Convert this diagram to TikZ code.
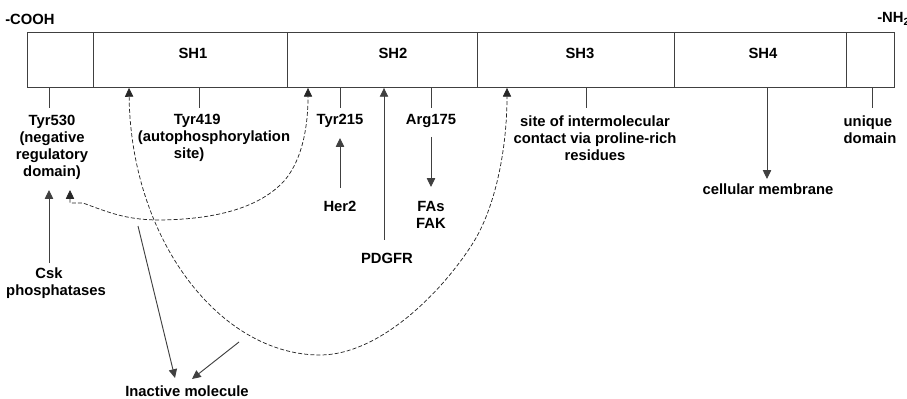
\documentclass[tikz,border=0pt]{standalone}
\usepackage{fontspec}
\setmainfont{Liberation Sans}
\usetikzlibrary{arrows.meta}
\begin{document}
\begin{tikzpicture}[x=0.75pt,y=-0.75pt,
  lbl/.style={font=\bfseries\fontsize{11.1}{12.75}\selectfont, inner sep=0pt, align=center},
  cell/.style={draw=black!75, line width=0.7pt, minimum height=41.25pt, inner sep=0pt, anchor=north west},
  ln/.style={draw=black!75, line width=0.7pt},
  arr/.style={ln, -{Triangle[length=6.6pt,width=6.2pt]}},
  darr/.style={draw=black!85, line width=0.55pt, dash pattern=on 3pt off 1.6pt, {Triangle[length=6.6pt,width=6.2pt]}-{Triangle[length=6.6pt,width=6.2pt]}}]
\useasboundingbox (0,0) rectangle (907,399);
% domain box
\node[cell, minimum width=49.5pt]  (c0)  at (27,32)  {};
\node[cell, minimum width=145.5pt] (sh1) at (93,32)  {};
\node[cell, minimum width=142.5pt] (sh2) at (287,32) {};
\node[cell, minimum width=147.75pt](sh3) at (477,32) {};
\node[cell, minimum width=129pt]   (sh4) at (674,32) {};
\node[cell, minimum width=36pt]    (c5)  at (846,32) {};
\node[lbl] (lsh1) at (193,53) {SH1};
\node[lbl] (lsh2) at (393,53) {SH2};
\node[lbl] (lsh3) at (580,53) {SH3};
\node[lbl] (lsh4) at (763,53) {SH4};
\node[lbl, anchor=west] (cooh) at (5,19) {-COOH};
\node[lbl, anchor=west] (nh2) at (877,19) {-NH\textsubscript{2}};
% labels
\node[lbl] (tyr530) at (52,147) {Tyr530\\(negative\\regulatory\\domain)};
\node[lbl, align=left] (tyr419) at (214,138) {\hspace*{27pt}Tyr419\\(autophosphorylation\\\hspace*{27pt}site)};
\node[lbl] (tyr215) at (340,121) {Tyr215};
\node[lbl] (arg175) at (431,121) {Arg175};
\node[lbl] (sh3t) at (595,138) {site of intermolecular\\contact via proline-rich\\residues};
\node[lbl, align=left] (uniq) at (870,129.5) {unique\\domain};
\node[lbl] (her2) at (340,206) {Her2};
\node[lbl] (pdgfr) at (387,258) {PDGFR};
\node[lbl] (fas) at (431,214.5) {FAs\\FAK};
\node[lbl] (memb) at (768,189) {cellular membrane};
\node[lbl] (csk) at (56,283) {Csk\hspace*{10.5pt}\\phosphatases};
\node[lbl] (inact) at (187,391) {Inactive molecule};
% ticks
\draw[ln] (c0.south -| 49,0) -- ++(0,20);
\draw[ln] (sh1.south -| 199,0) -- ++(0,20);
\draw[ln] (sh2.south -| tyr215) -- ++(0,20);
\draw[ln] (sh2.south -| arg175) -- ++(0,20);
\draw[ln] (sh3.south -| 586,0) -- ++(0,20);
\draw[ln] (c5.south -| 872,0) -- ++(0,20);
% arrows
\coordinate (her2top) at (340,188);
\draw[arr] (her2top) -- (340,138);
\coordinate (pdtop) at (384,240);
\draw[arr] (pdtop) -- (sh2.south -| pdtop);
\coordinate (argbot) at (431,137);
\draw[arr] (argbot) -- (431,187);
\draw[arr] (sh4.south -| 767,0) -- (767,179);
\coordinate (csktop) at (49,263);
\draw[arr] (csktop) -- (49,190);
\coordinate (ia1) at (138,226);
\coordinate (ia2) at (239,342);
\draw[arr] (ia1) -- (175,378);
\draw[arr] (ia2) -- (192,379);
% dashed connections
\draw[darr] (70,190) -- (70,203) -- (83,203)
  .. controls (110,213) and (125,219) .. (155,220)
  .. controls (215,220) and (260,208) .. (285,180)
  .. controls (303,158) and (308,125) .. (sh1.south east -| 308,0);
\draw[darr] (sh1.south -| 129,0)
  .. controls (131,240) and (220,355) .. (320,355)
  .. controls (378,355) and (440,295) .. (473,243)
  .. controls (495,208) and (507,150) .. (sh3.south -| 507,0);
\end{tikzpicture}
\end{document}
